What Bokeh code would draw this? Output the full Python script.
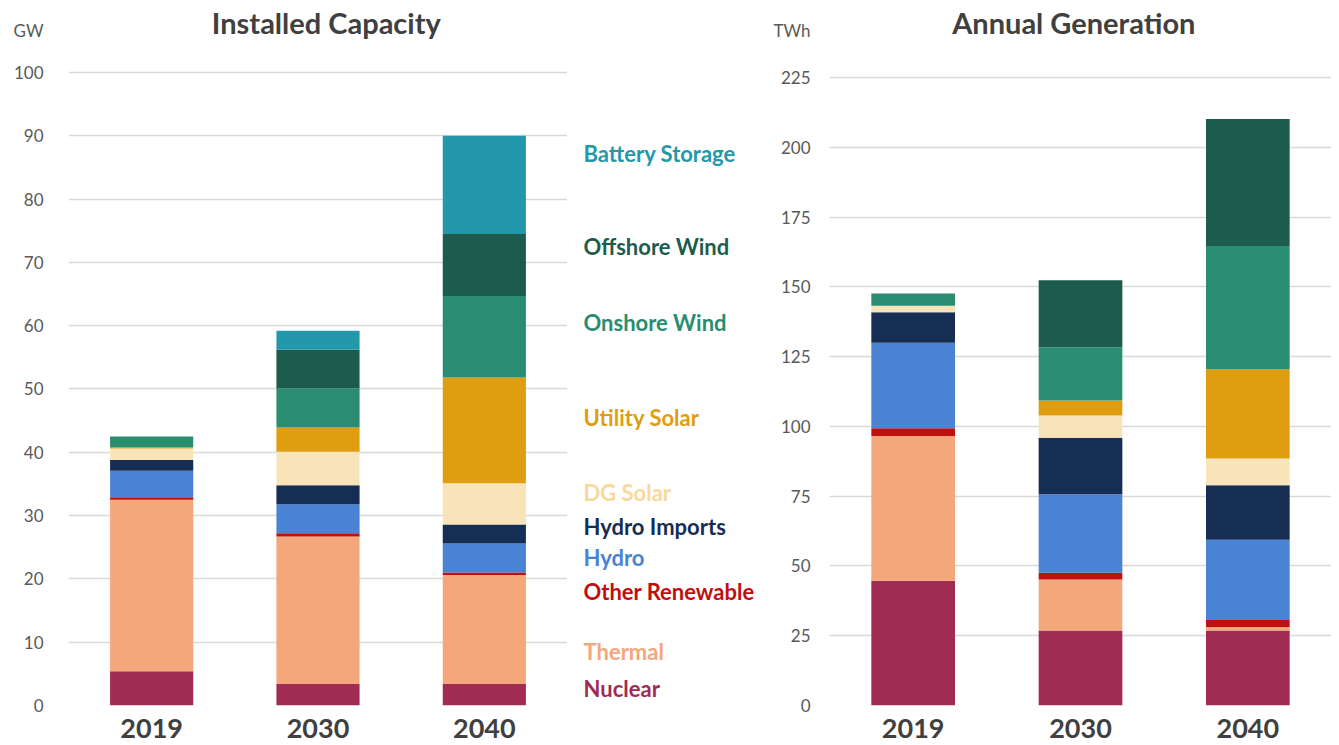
from bokeh.plotting import figure
from bokeh.layouts import row
from bokeh.models import FactorRange, Range1d, Label, FixedTicker, ColumnDataSource
from bokeh.core.properties import value
from bokeh.embed import file_html
from bokeh.resources import INLINE

# ---------------- data ----------------
years = ["2019", "2030", "2040"]
series = ["Nuclear", "Thermal", "Other Renewable", "Hydro", "Hydro Imports",
          "DG Solar", "Utility Solar", "Onshore Wind", "Offshore Wind", "Battery Storage"]

# Installed capacity (GW)
cap_nuclear = [5.4, 3.4, 3.4]
cap_thermal = [27.1, 23.3, 17.2]
cap_other_renewable = [0.4, 0.5, 0.4]
cap_hydro = [4.2, 4.6, 4.6]
cap_hydro_imports = [1.7, 3.0, 3.0]
cap_dg_solar = [1.8, 5.3, 6.5]
cap_utility_solar = [0.2, 3.8, 16.7]
cap_onshore_wind = [1.7, 6.2, 12.9]
cap_offshore_wind = [0.0, 6.1, 9.8]
cap_battery = [0.0, 3.0, 15.5]

# Annual generation (TWh)
gen_nuclear = [44.7, 26.9, 26.9]
gen_thermal = [51.9, 18.2, 1.2]
gen_other_renewable = [2.7, 2.5, 2.5]
gen_hydro = [30.7, 28.1, 28.8]
gen_hydro_imports = [10.9, 20.2, 19.5]
gen_dg_solar = [2.3, 8.0, 9.6]
gen_utility_solar = [0.0, 5.4, 32.0]
gen_onshore_wind = [4.4, 19.0, 44.1]
gen_offshore_wind = [0.0, 24.1, 45.5]
gen_battery = [0.0, 0.0, 0.0]

cap_ticks = [0, 10, 20, 30, 40, 50, 60, 70, 80, 90, 100]
gen_ticks = [0, 25, 50, 75, 100, 125, 150, 175, 200, 225]

# ---------------- styles / layout ----------------
colors = ["#A02B53", "#F5A77C", "#C00F0F", "#4A82D4", "#162E54",
          "#F8E4B8", "#DE9E10", "#2A8C70", "#1D5C4D", "#2398AA"]
label_colors = ["#A02B53", "#F5A77C", "#C00F0F", "#4A82D4", "#162E54",
                "#F9D99A", "#DE9E10", "#2A8C70", "#1D5C4D", "#2398AA"]
label_y = [2.7, 8.5, 18.0, 23.4, 28.3, 33.6, 45.5, 60.5, 72.5, 87.2]

FONT = "Lato"
GRID = "#D9D9D9"
TICK_COL = "#595959"
TITLE_COL = "#404040"
FRAME_H = 697
TOP = 8
BOTTOM = 39


def make_chart(title, unit, vals, ticks, ymax, unit_pos, title_x, title_y,
               left_border, frame_w, standoff):
    p = figure(x_range=FactorRange(*years), y_range=Range1d(0, ymax),
               output_backend="svg", toolbar_location=None,
               frame_width=frame_w, frame_height=FRAME_H,
               min_border_left=left_border, min_border_right=0,
               min_border_top=TOP, min_border_bottom=BOTTOM)
    data = {"year": years}
    for s, v in zip(series, vals):
        data[s] = v
    src = ColumnDataSource(data)
    p.vbar_stack(series, x="year", width=0.5, source=src, color=colors,
                 line_color=None)
    p.outline_line_color = None
    p.background_fill_color = "white"
    p.border_fill_color = "white"

    p.xgrid.grid_line_color = None
    p.ygrid.ticker = FixedTicker(ticks=ticks)
    p.ygrid.grid_line_color = GRID
    p.ygrid.grid_line_width = 1.5
    p.ygrid.level = "underlay"

    yax = p.yaxis[0]
    yax.ticker = FixedTicker(ticks=ticks + [unit_pos])
    yax.major_label_overrides = {unit_pos: unit}
    yax.axis_line_color = None
    yax.major_tick_line_color = None
    yax.minor_tick_line_color = None
    yax.major_label_text_font = FONT
    yax.major_label_text_font_size = "17px"
    yax.major_label_text_color = TICK_COL
    yax.major_label_standoff = standoff

    xax = p.xaxis[0]
    xax.axis_line_color = None
    xax.major_tick_line_color = None
    xax.major_label_text_font = FONT
    xax.major_label_text_font_style = "bold"
    xax.major_label_text_font_size = "27px"
    xax.major_label_text_color = TITLE_COL
    xax.major_label_standoff = 7

    t = Label(x=title_x, y=title_y, text=title, text_font=FONT,
              text_font_style="bold", text_font_size="29px", text_color=TITLE_COL,
              text_align="center", text_baseline="middle")
    p.add_layout(t)
    return p


cap_vals = [cap_nuclear, cap_thermal, cap_other_renewable, cap_hydro, cap_hydro_imports,
            cap_dg_solar, cap_utility_solar, cap_onshore_wind, cap_offshore_wind, cap_battery]
gen_vals = [gen_nuclear, gen_thermal, gen_other_renewable, gen_hydro, gen_hydro_imports,
            gen_dg_solar, gen_utility_solar, gen_onshore_wind, gen_offshore_wind, gen_battery]

p1 = make_chart("Installed Capacity", "GW", cap_vals, cap_ticks, 110.11, 106.6,
                1.55, 107.9, 68, 499, 19)
p3 = make_chart("Annual Generation", "TWh", gen_vals, gen_ticks, 249.72, 241.8,
                1.46, 244.7, 40, 502, 13)

# middle label column, sharing the capacity chart's vertical scale
p2 = figure(x_range=Range1d(0, 1), y_range=Range1d(0, 110.11),
            output_backend="svg", toolbar_location=None,
            frame_width=203, frame_height=FRAME_H,
            min_border_left=0, min_border_right=0,
            min_border_top=TOP, min_border_bottom=BOTTOM)
p2.axis.visible = False
p2.grid.grid_line_color = None
p2.outline_line_color = None
lsrc = ColumnDataSource(dict(x=[0] * len(series), y=label_y, text=series, color=label_colors))
p2.text(x="x", y="y", text="text", source=lsrc, text_color="color",
        text_font=value(FONT), text_font_style="bold", text_font_size="22px",
        text_baseline="middle", text_align="left", x_offset=16)

layout = row(p1, p2, p3, spacing=0)
open("out.html", "w").write(file_html(layout, INLINE))
